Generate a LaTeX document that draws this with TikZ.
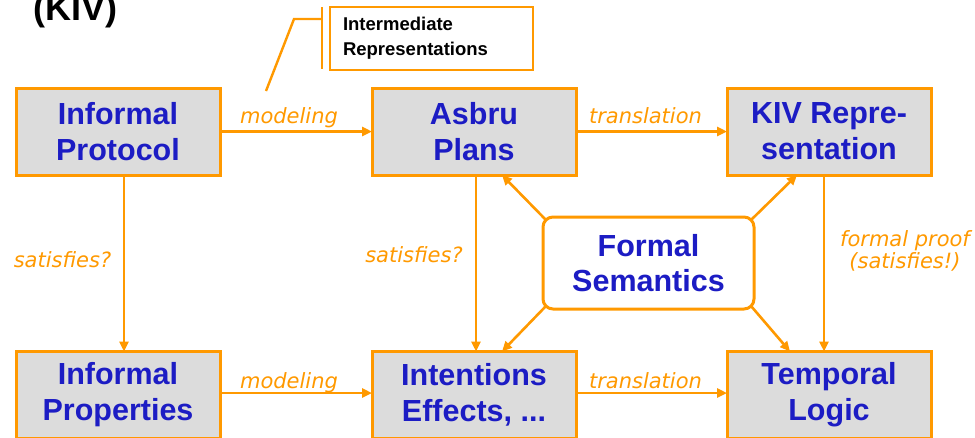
\documentclass[tikz,border=0pt]{standalone}
\usepackage{fontspec}
\setmainfont{Liberation Sans}
\newfontfamily\lblfont{DejaVu Sans}
\usetikzlibrary{arrows.meta,calc}
\definecolor{flow}{RGB}{255,153,0}
\definecolor{boxgray}{RGB}{220,220,220}
\definecolor{ink}{RGB}{28,28,196}

\begin{document}
\begin{tikzpicture}[x=1pt,y=-1pt,
  stage/.style={draw=flow, line width=3pt, fill=boxgray, minimum width=204pt,
    minimum height=87pt, inner sep=0pt, outer sep=0pt, align=center,
    font=\fontsize{30.5}{36}\selectfont\bfseries, text=ink},
  semantics/.style={draw=flow, line width=3pt, fill=white, rounded corners=10pt,
    minimum width=211pt, minimum height=92pt, inner sep=0pt, outer sep=0pt,
    align=center, font=\fontsize{30.5}{35}\selectfont\bfseries, text=ink},
  flowarrow/.style={draw=flow, line width=2.6pt, -{Triangle[length=10pt,width=9pt]}},
  lbl/.style={text=flow, font=\lblfont\itshape\fontsize{21}{22}\selectfont, inner sep=0pt},
]
\useasboundingbox (0,0) rectangle (975,437);

% heading (partly above the page)
\node[anchor=base west, inner sep=0pt, font=\fontsize{36}{40}\selectfont\bfseries]
  (title) at (33,20) {(KIV)};

% callout for the intermediate layer
\node[draw=flow, line width=2.5pt, fill=white, minimum width=203pt, minimum height=63pt,
  text width=177pt, inner xsep=13pt, outer sep=0pt, align=left,
  font=\fontsize{18.5}{25}\selectfont\bfseries] (ir) at (431.5,38.5)
  {Intermediate\\Representations};
\coordinate (barTop) at (322,7);
\coordinate (barBot) at (322,69);
\coordinate (barMid) at (322,19);
\coordinate (bend) at (294,19);
\coordinate (tail) at (266,91);
\draw[flow, line width=2.4pt] (barTop) -- (barBot);
\draw[flow, line width=2.4pt] (barMid) -- (bend) -- (tail);

% stages
\node[stage] (ip)    at (118,131.5) {Informal\\Protocol};
\node[stage] (asbru) at (474,131.5) {Asbru\\Plans};
\node[stage] (kiv)   at (829,131.5) {KIV Repre-\\sentation};
\node[stage] (iprop) at (118,395)   {Informal\\Properties};
\node[stage] (inten) at (474,395)   {Intentions\\Effects, ...};
\node[stage] (temp)  at (829,395)   {Temporal\\Logic};
\node[semantics] (fs) at (648.5,263) {Formal\\Semantics};

% horizontal flow
\draw[flowarrow] (ip.east) -- (asbru.west);
\draw[flowarrow] (asbru.east) -- (kiv.west);
\draw[flowarrow] ($(iprop.east)+(0,-2)$) -- ($(inten.west)+(0,-2)$);
\draw[flowarrow] ($(inten.east)+(0,-2)$) -- ($(temp.west)+(0,-2)$);

% vertical flow
\draw[flowarrow] ($(ip.south)+(6,0)$) -- ($(iprop.north)+(6,0)$);
\draw[flowarrow] ($(asbru.south)+(2,0)$) -- ($(inten.north)+(2,0)$);
\draw[flowarrow] ($(kiv.south)+(-5,0)$) -- ($(temp.north)+(-5,0)$);

% semantics links
\draw[flowarrow] ($(fs.north west)+(3,3)$) -- ($(asbru.south)+(28,0)$);
\draw[flowarrow] ($(fs.south west)+(3,-3)$) -- ($(inten.north)+(28,0)$);
\draw[flowarrow] ($(fs.north east)+(-3,3)$) -- ($(kiv.south)+(-32,0)$);
\draw[flowarrow] ($(fs.south east)+(-3,-3)$) -- ($(temp.north)+(-39,0)$);

% edge labels
\node[lbl, anchor=base] (l1) at (289,123) {modeling};
\node[lbl, anchor=base] (l2) at (645.5,123) {translation};
\node[lbl, anchor=base] (l3) at (289,388) {modeling};
\node[lbl, anchor=base] (l4) at (645.5,388) {translation};
\node[lbl, anchor=base] (l5) at (62.5,267) {satisfies?};
\node[lbl, anchor=base] (l6) at (414,262) {satisfies?};
\node[lbl, align=center] (l7) at (905,251) {formal proof\\(satisfies!)};
\end{tikzpicture}
\end{document}
